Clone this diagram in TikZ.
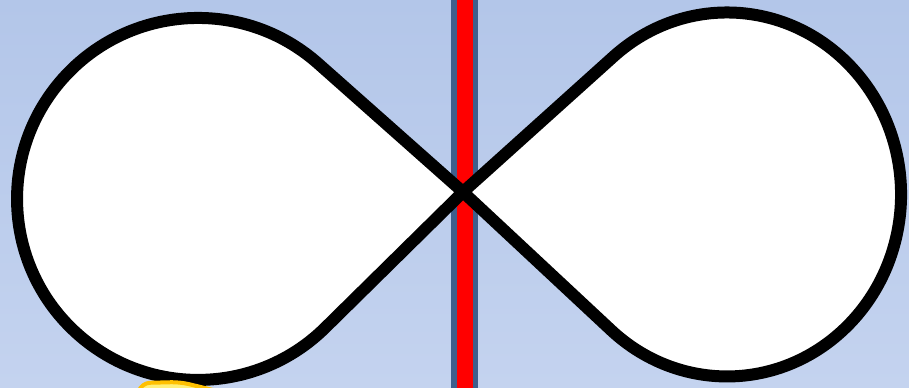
\documentclass[tikz,border=0pt]{standalone}
\usepackage{xcolor}
\definecolor{skytop}{HTML}{B3C6E9}
\definecolor{skybot}{HTML}{C4D3EF}
\definecolor{poleblue}{HTML}{3F5F8C}
\definecolor{polered}{HTML}{FF0000}
\definecolor{blobfill}{HTML}{FFF07A}
\definecolor{blobedge}{HTML}{FFC000}
\usetikzlibrary{calc}

\begin{document}
\begin{tikzpicture}[x=0.02cm,y=0.02cm,
  lobe/.style={draw=black,fill=white,line width=0.24cm,line join=miter},
  blob/.style={draw=blobedge,fill=blobfill,line width=0.08cm,line join=round,rounded corners=5}]
\clip (0,0) rectangle (909,388);
\shade[top color=skytop,bottom color=skybot] (0,0) rectangle (909,388);
% pole behind the crossing
\fill[poleblue] (451,0) rectangle (478,388);
\fill[polered] (457,0) rectangle (473,388);
% the two lobes meet at the crossing
\coordinate (cross) at (463,196);
\draw[lobe] (cross) -- (318.2,324.4) arc[start angle=48.4,end angle=314.6,radius=181] -- cycle;
\draw[lobe] (cross) -- (613.6,331.5) arc[start angle=130.7,end angle=-131.7,x radius=174,y radius=182] -- cycle;
% yellow spot at the bottom
\draw[blob] (137,-10) -- (141,5) -- (180,6) -- (246,-10) -- cycle;
\end{tikzpicture}
\end{document}
